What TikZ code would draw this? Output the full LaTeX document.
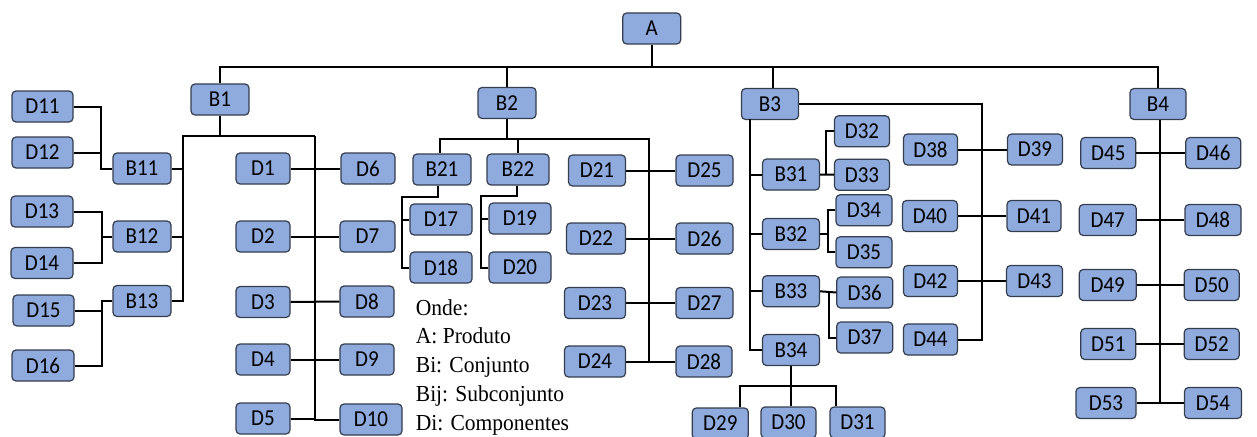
\documentclass[tikz,border=0pt]{standalone}
\usepackage{fontspec}
\setmainfont{Carlito}
\newfontfamily\boxfont[FakeStretch=0.92]{Carlito}
\newfontfamily\legfont[FakeStretch=0.94]{Liberation Serif}
\usetikzlibrary{calc}
\definecolor{boxfill}{RGB}{143,170,220}
\definecolor{boxline}{RGB}{52,62,78}
\tikzset{
  bx/.style={rectangle, rounded corners=4pt, draw=boxline, line width=1.2pt, fill=boxfill,
    minimum height=31pt, minimum width=#1, inner sep=0pt, text=black,
    font=\boxfont\fontsize{22.8}{26}\selectfont},
  bx/.default=56pt,
  conn/.style={line width=2pt, black},
  leg/.style={anchor=base west, inner sep=0pt, font=\legfont\fontsize{22.9}{27}\selectfont}
}
\begin{document}
\begin{tikzpicture}[x=1pt,y=-1pt]
\useasboundingbox (0,0) rectangle (1257,436);
% nodes
\node[bx=58pt] (A) at (651.7,28.5) {A};
\node[bx=58pt] (B1) at (220,99.5) {B1};
\node[bx=58pt] (B2) at (507,103) {B2};
\node[bx=57pt] (B3) at (770,104) {B3};
\node[bx=56pt] (B4) at (1158,104) {B4};
% B1 group
\node[bx=61pt] (D11) at (42.5,106.5) {D11};
\node[bx=61pt] (D12) at (42.5,152.5) {D12};
\node[bx=58pt] (B11) at (142,168.5) {B11};
\node[bx=62pt] (D13) at (42,211.5) {D13};
\node[bx=62pt] (D14) at (42,263) {D14};
\node[bx=58pt] (B12) at (142,236.5) {B12};
\node[bx=61pt] (D15) at (43.5,310.5) {D15};
\node[bx=62pt] (D16) at (43,365.5) {D16};
\node[bx=58pt] (B13) at (142,301) {B13};
\node[bx=54pt] (D1) at (263,168.5) {D1};
\node[bx=54pt] (D6) at (368,168.5) {D6};
\node[bx=54pt] (D2) at (263,236.5) {D2};
\node[bx=55pt] (D7) at (367.5,236.5) {D7};
\node[bx=54pt] (D3) at (263,302) {D3};
\node[bx=54pt] (D8) at (367,301.5) {D8};
\node[bx=54pt] (D4) at (263,359.5) {D4};
\node[bx=54pt] (D9) at (367,359.5) {D9};
\node[bx=54pt] (D5) at (263,418.5) {D5};
\node[bx=62pt] (D10) at (371,419.5) {D10};
% B2 group
\node[bx=58pt] (B21) at (442,169.5) {B21};
\node[bx=62pt] (B22) at (518,169.5) {B22};
\node[bx=62pt] (D17) at (441,219.5) {D17};
\node[bx=62pt] (D18) at (441,267.5) {D18};
\node[bx=62pt] (D19) at (520,218.5) {D19};
\node[bx=62pt] (D20) at (520,267.5) {D20};
\node[bx=57pt] (D21) at (597,170.5) {D21};
\node[bx=57pt] (D25) at (704.5,170.5) {D25};
\node[bx=59pt] (D22) at (596,238.5) {D22};
\node[bx=57pt] (D26) at (704.5,238.5) {D26};
\node[bx=61pt] (D23) at (595,303) {D23};
\node[bx=57pt] (D27) at (704.5,303) {D27};
\node[bx=61pt] (D24) at (595,361.5) {D24};
\node[bx=56pt] (D28) at (704,361.5) {D28};
% B3 group
\node[bx=57pt] (B31) at (791,174.5) {B31};
\node[bx=57pt] (B32) at (791,234) {B32};
\node[bx=57pt] (B33) at (791,291.3) {B33};
\node[bx=57pt] (B34) at (791,350) {B34};
\node[bx=55pt] (D32) at (862,131.3) {D32};
\node[bx=55pt] (D33) at (862,174.7) {D33};
\node[bx=56pt] (D34) at (864,210.3) {D34};
\node[bx=56pt] (D35) at (864,252.3) {D35};
\node[bx=56pt] (D36) at (864.7,292.5) {D36};
\node[bx=56pt] (D37) at (864.7,337.5) {D37};
\node[bx=56pt] (D29) at (720.3,423.5) {D29};
\node[bx=55pt] (D30) at (788.5,422.5) {D30};
\node[bx=55pt] (D31) at (857.5,422.5) {D31};
\node[bx=54pt] (D38) at (930.5,149.5) {D38};
\node[bx=55pt] (D39) at (1035,149.5) {D39};
\node[bx=55pt] (D40) at (930,216) {D40};
\node[bx=54pt] (D41) at (1034,216) {D41};
\node[bx=54pt] (D42) at (930.5,281) {D42};
\node[bx=56pt] (D43) at (1034.5,281) {D43};
\node[bx=54pt] (D44) at (930.5,339.5) {D44};
% B4 group
\node[bx=55pt] (D45) at (1108.3,153) {D45};
\node[bx=55pt] (D46) at (1213.3,153) {D46};
\node[bx=57pt] (D47) at (1107.7,220) {D47};
\node[bx=56pt] (D48) at (1213,220) {D48};
\node[bx=57pt] (D49) at (1107.7,285) {D49};
\node[bx=55pt] (D50) at (1211.7,285) {D50};
\node[bx=55pt] (D51) at (1108.3,344) {D51};
\node[bx=55pt] (D52) at (1211.7,344) {D52};
\node[bx=60pt] (D53) at (1106,403) {D53};
\node[bx=57pt] (D54) at (1213,403) {D54};
% legend
\node[leg] (L1) at (415.7,315) {Onde:};
\node[leg] (L2) at (415.7,343.5) {A: Produto};
\node[leg] (L3) at (415.7,372) {Bi: Conjunto};
\node[leg] (L4) at (415.7,401) {Bij: Subconjunto};
\node[leg] (L5) at (415.7,430) {Di: Componentes};
% coordinates
\coordinate (top) at (651.7,66.7);
\coordinate (b1L) at (182.7,136);
\coordinate (b1R) at (315,136);
\coordinate (j11) at (100.5,168.5);
\coordinate (j12) at (101.5,236.5);
\coordinate (j13) at (101.5,301);
\coordinate (b2R) at (649.3,139);
\coordinate (j21) at (401.7,197);
\coordinate (j22) at (480.7,196);
\coordinate (j3) at (750,119);
\coordinate (x3r) at (982,0);
\coordinate (x31) at (826,0);
\coordinate (x32) at (827.7,0);
\coordinate (x33) at (829.3,0);
\coordinate (b34h) at (790.5,385.7);
% connectors: top level
\draw[conn] (A.south) -- (top);
\draw[conn] (B1.north) -- (B1.north |- top) -- (B4.north |- top) -- (B4.north);
\draw[conn] (B2.north) -- (B2.north |- top);
\draw[conn] ([xshift=2.7pt]B3.north) -- ([xshift=2.7pt]B3.north |- top);
% B1
\draw[conn] (B1.south) -- (B1.south |- b1L);
\draw[conn] (b1R) -- (b1L) |- (B13.east);
\draw[conn] (B11.east) -- (B11.east -| b1L);
\draw[conn] (B12.east) -- (B12.east -| b1L);
\draw[conn] (b1R) |- (D10.west);
\draw[conn] (D1.east) -- (D6.west);
\draw[conn] (D2.east) -- (D7.west);
\draw[conn] (D3.east) -- (D8.west);
\draw[conn] (D4.east) -- (D9.west);
\draw[conn] (D5.east) -- (D5.east -| b1R);
\draw[conn] (D11.east) -| (j11) -- (B11.west);
\draw[conn] (D12.east) -- (D12.east -| j11);
\draw[conn] (D13.east) -| (j12) |- (D14.east);
\draw[conn] (j12) -- (B12.west);
\draw[conn] (B13.west) -- (j13) |- (D16.east);
\draw[conn] (D15.east) -- (D15.east -| j13);
% B2
\draw[conn] (B2.south) -- (B2.south |- b2R);
\draw[conn] ([xshift=-2pt]B21.north) |- (b2R) |- (D24.east);
\draw[conn] (B22.north) -- (B22.north |- b2R);
\draw[conn] (D24.east) -- (D28.west);
\draw[conn] (D21.east) -- (D25.west);
\draw[conn] (D22.east) -- (D26.west);
\draw[conn] (D23.east) -- (D27.west);
\draw[conn] ([xshift=-4pt]B21.south) |- (j21) |- (D18.west);
\draw[conn] (D17.west) -- (D17.west -| j21);
\draw[conn] ([xshift=-1pt]B22.south) |- (j22) |- (D20.west);
\draw[conn] (D19.west) -- (D19.west -| j22);
% B3
\draw[conn] (j3) |- (B34.west);
\draw[conn] (B31.west) -- (B31.west -| j3);
\draw[conn] (B32.west) -- (B32.west -| j3);
\draw[conn] (B33.west) -- (B33.west -| j3);
\draw[conn] (B3.east) -| (x3r |- D44.east) -- (D44.east);
\draw[conn] (D38.east) -- (D39.west);
\draw[conn] (D40.east) -- (D41.west);
\draw[conn] (D42.east) -- (D43.west);
\draw[conn] (B31.east) -- (D33.west);
\draw[conn] (D32.west) -| (x31 |- B31.east);
\draw[conn] (B32.east) -- (x32 |- B32.east);
\draw[conn] (D34.west) -| (x32 |- D35.west) -- (D35.west);
\draw[conn] (B33.east) -- (D36.west);
\draw[conn] (x33 |- B33.east) |- (D37.west);
\draw[conn] ([xshift=-0.5pt]B34.south) -- (b34h) -- (b34h |- D30.north);
\draw[conn] ([xshift=19.7pt]D29.north) |- (b34h) -| ([xshift=-21.8pt]D31.north);
% B4
\draw[conn] ([xshift=2pt]B4.south) -- ([xshift=2pt]B4.south |- D53.east);
\draw[conn] (D45.east) -- (D46.west);
\draw[conn] (D47.east) -- (D48.west);
\draw[conn] (D49.east) -- (D50.west);
\draw[conn] (D51.east) -- (D52.west);
\draw[conn] (D53.east) -- (D54.west);
\end{tikzpicture}
\end{document}
